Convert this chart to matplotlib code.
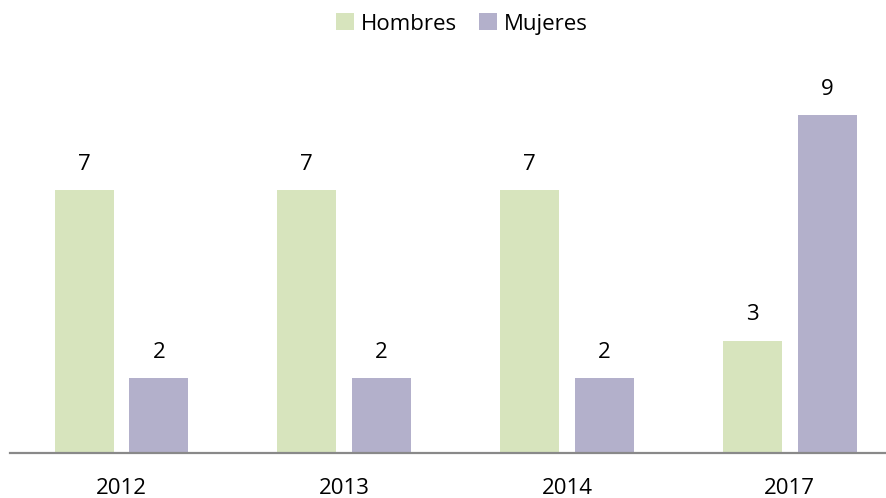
import matplotlib
matplotlib.use("Agg")
import matplotlib.pyplot as plt
import numpy as np

years = ["2012", "2013", "2014", "2017"]
hombres = [7, 7, 7, 3]
mujeres = [2, 2, 2, 9]
series_names = ["Hombres", "Mujeres"]

plt.rcParams['font.family'] = ['Open Sans', 'DejaVu Sans']

W, H = 887, 498
fig = plt.figure(figsize=(W/100, H/100), dpi=100)
left = 10.2 / W
width = 4 * 222.7 / W
bottom = 45 / H
height = 403 / H
ax = fig.add_axes([left, bottom, width, height])

x = np.arange(len(years))
bw = 0.265
off = 0.168
green = "#D7E4BD"
purple = "#B3B0CB"
b1 = ax.bar(x - off, hombres, bw, color=green, label=series_names[0])
b2 = ax.bar(x + off, mujeres, bw, color=purple, label=series_names[1])

for bars, vals in ((b1, hombres), (b2, mujeres)):
    for r, v in zip(bars, vals):
        ax.annotate(str(v), (r.get_x() + r.get_width()/2, v),
                    xytext=(0, 11), textcoords="offset points",
                    ha="center", va="bottom", fontsize=16, color="black")

ax.set_xlim(-0.5, 3.5)
ax.set_ylim(0, 403 / 37.5)
ax.set_xticks(x)
ax.set_xticklabels(years, fontsize=16)
ax.tick_params(axis='x', length=0, pad=18)
ax.set_yticks([])
for s in ("top", "right", "left"):
    ax.spines[s].set_visible(False)
ax.spines["bottom"].set_color("#898989")
ax.spines["bottom"].set_linewidth(1.6)

fig.legend(handles=[b1, b2], labels=series_names, loc="center",
           bbox_to_anchor=(462 / W, 1 - 24 / H), ncol=2, frameon=False,
           fontsize=16, handlelength=0.8, handleheight=0.8,
           handletextpad=0.3, columnspacing=1.0)

fig.savefig("out.png", dpi=100)
